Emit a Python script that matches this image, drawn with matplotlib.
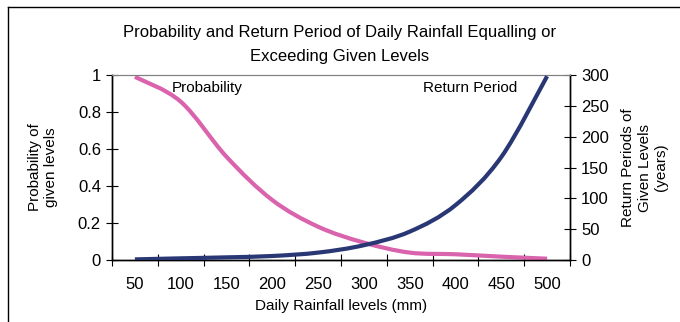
import numpy as np
import matplotlib
matplotlib.use('Agg')
import matplotlib.pyplot as plt
from matplotlib.path import Path
from matplotlib.patches import PathPatch
from matplotlib.lines import Line2D

plt.rcParams['font.family'] = ['Liberation Sans', 'DejaVu Sans']

# data
rainfall = [50, 100, 150, 200, 250, 300, 350, 400, 450, 500]
probability = [0.99, 0.856, 0.558, 0.324, 0.18, 0.094, 0.04, 0.031, 0.018, 0.007]
return_period = [1, 2.7, 4.3, 6.5, 12, 24, 46, 89, 167, 298]

PINK = '#D963AD'
NAVY = '#2A3775'


def smooth_path(xs, ys):
    """Excel-like smoothed line as cubic bezier segments"""
    pts = np.column_stack([xs, ys]).astype(float)
    n = len(pts)
    verts = [pts[0]]
    codes = [Path.MOVETO]
    for i in range(n - 1):
        p0 = pts[i - 1] if i > 0 else pts[i]
        p1 = pts[i]
        p2 = pts[i + 1]
        p3 = pts[i + 2] if i + 2 < n else pts[i + 1]
        c1 = p1 + (p2 - p0) / 6.0
        c2 = p2 - (p3 - p1) / 6.0
        verts += [c1, c2, p2]
        codes += [Path.CURVE4] * 3
    return Path(verts, codes)


fig = plt.figure(figsize=(6.8, 3.22), dpi=100)
ax = fig.add_axes([112 / 680, 1 - 260 / 322, 458 / 680, 185 / 322])
ax2 = ax.twinx()

x = np.arange(len(rainfall))
ax.add_patch(PathPatch(smooth_path(x, probability), fill=False, edgecolor=PINK,
                       lw=3, capstyle='butt', zorder=3))
ax2.add_patch(PathPatch(smooth_path(x, return_period), fill=False, edgecolor=NAVY,
                        lw=3, capstyle='butt', zorder=3))

ax.set_xlim(-0.5, len(rainfall) - 0.5)
ax.set_ylim(0, 1)
ax2.set_ylim(0, 300)

# category axis: ticks between categories, labels centred
ax.set_xticks(np.arange(-0.5, len(rainfall), 1.0))
ax.set_xticklabels([])
ax.set_xticks(x, minor=True)
ax.set_xticklabels([str(r) for r in rainfall], minor=True)
ax.tick_params(axis='x', which='major', direction='inout', length=8, width=0.8)
ax.tick_params(axis='x', which='minor', length=0, pad=12, labelsize=12)

ax.set_yticks([0, 0.2, 0.4, 0.6, 0.8, 1])
ax.set_yticklabels(['0', '0.2', '0.4', '0.6', '0.8', '1'])
ax.tick_params(axis='y', direction='inout', length=8, width=0.8, pad=4, labelsize=12)
ax2.set_yticks(np.arange(0, 301, 50))
ax2.tick_params(axis='y', direction='inout', length=8, width=0.8, pad=4, labelsize=12)

for a in (ax, ax2):
    a.spines['top'].set_color('#808080')
    a.spines['top'].set_linewidth(0.8)
    for s in ('left', 'right', 'bottom'):
        a.spines[s].set_linewidth(1.0)

ax.set_xlabel('Daily Rainfall levels (mm)', fontsize=11, labelpad=5)
ax.set_ylabel('Probability of\ngiven levels', fontsize=11, labelpad=14)
ax2.set_ylabel('Return Periods of\nGiven Levels\n(years)', fontsize=11, labelpad=9,
               rotation=90)

ax.text(0.13, 0.93, 'Probability', transform=ax.transAxes, fontsize=11, va='center')
ax.text(0.68, 0.93, 'Return Period', transform=ax.transAxes, fontsize=11, va='center')

fig.text(0.5, 1 - 33 / 322, 'Probability and Return Period of Daily Rainfall Equalling or',
         ha='center', va='center', fontsize=12)
fig.text(0.5, 1 - 57 / 322, 'Exceeding Given Levels', ha='center', va='center', fontsize=12)

# chart area border (cropped at right and bottom)
fig.add_artist(Line2D([8 / 680, 1], [1 - 7 / 322] * 2, color='black', lw=1,
                      transform=fig.transFigure))
fig.add_artist(Line2D([8 / 680] * 2, [0, 1 - 7 / 322], color='black', lw=1,
                      transform=fig.transFigure))

fig.savefig('out.png', dpi=100)
